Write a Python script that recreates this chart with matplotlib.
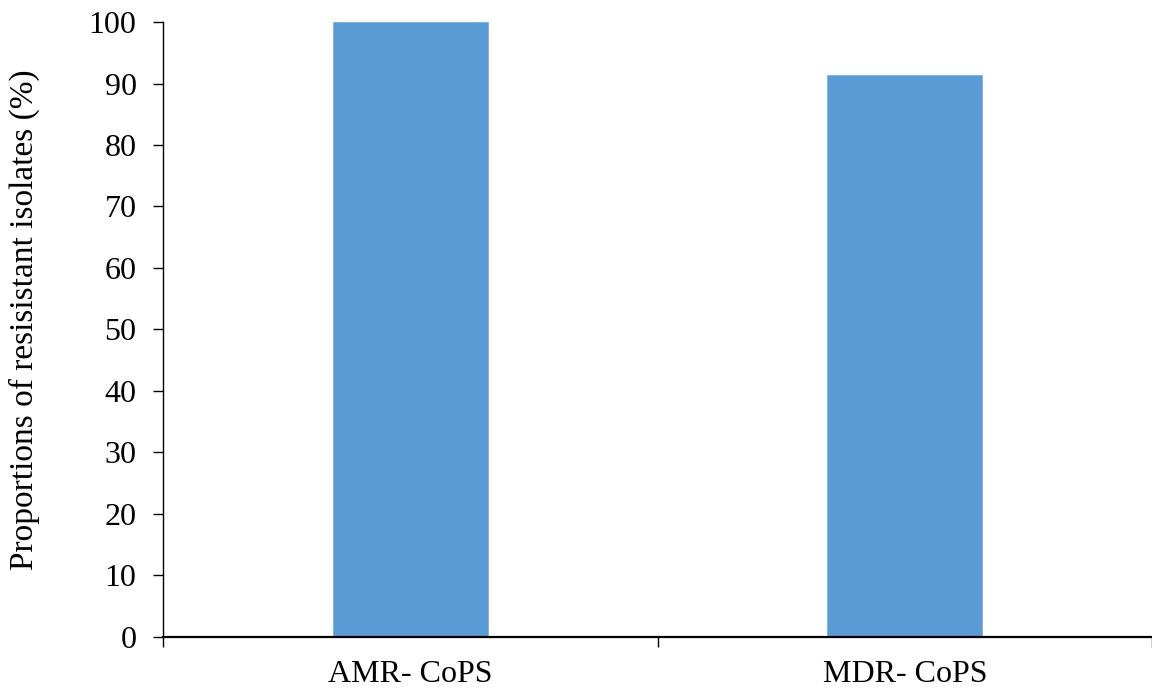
#
# 耐性菌の割合 (棒グラフ)
#

import matplotlib
matplotlib.use('Agg')
import matplotlib.pyplot as plt
from matplotlib.ticker import MultipleLocator, FixedLocator

categories = ['AMR- CoPS', 'MDR- CoPS']
values = [100, 91.4]
y_label = 'Proportions of resisistant isolates (%)'

plt.rcParams['font.family'] = ['Liberation Serif', 'DejaVu Serif']

fig = plt.figure(figsize=(11.52, 6.93), dpi=100)
ax = fig.add_axes([0.1415, 0.0815, 0.8585, 0.8865])

x = list(range(len(categories)))
ax.bar(x, values, width=0.313, color='#5B9BD5', edgecolor='#7FB0DE', linewidth=0.6)

ax.set_xlim(-0.5, len(categories) - 0.5)
ax.set_ylim(0, 100)
ax.yaxis.set_major_locator(MultipleLocator(10))

# 目盛は区切り位置、ラベルは棒の中央
ax.xaxis.set_major_locator(FixedLocator([i - 0.5 for i in range(len(categories) + 1)]))
ax.xaxis.set_major_formatter(plt.NullFormatter())
ax.xaxis.set_minor_locator(FixedLocator(x))
ax.set_xticklabels(categories, minor=True)
ax.tick_params(axis='x', which='minor', length=0, pad=17, labelsize=23)
ax.tick_params(axis='x', which='major', direction='out', length=7, width=1)
ax.tick_params(axis='y', direction='out', length=7, width=1, pad=12, labelsize=23)

for s in ['top', 'right']:
    ax.spines[s].set_visible(False)
ax.spines['left'].set_linewidth(1.0)
ax.spines['bottom'].set_linewidth(1.6)
ax.spines['bottom'].set_zorder(5)

ax.set_ylabel(y_label, fontsize=24)
ax.yaxis.set_label_coords(-0.124, 0.515)

fig.savefig('out.png', dpi=100)
